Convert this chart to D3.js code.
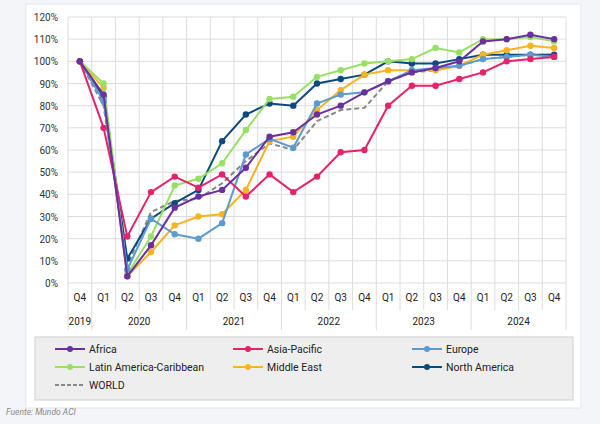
<!DOCTYPE html><html><head><meta charset="utf-8"><script src="https://cdn.jsdelivr.net/npm/d3@7"></script>
<style>body{margin:0;background:#f3f5f8;font-family:Roboto,"Liberation Sans",sans-serif;font-weight:400}text{font-weight:400}</style></head><body><svg id="c" width="600" height="424"></svg>
<script>
const quarters=["Q4","Q1","Q2","Q3","Q4","Q1","Q2","Q3","Q4","Q1","Q2","Q3","Q4","Q1","Q2","Q3","Q4","Q1","Q2","Q3","Q4"];
const years=[["2019",0,1],["2020",1,5],["2021",5,9],["2022",9,13],["2023",13,17],["2024",17,21]];
const yTicks=[0,10,20,30,40,50,60,70,80,90,100,110,120];
const africa=[100,85,3,17,34,39,42,52,66,68,76,80,86,91,95,97,100,109,110,112,110];
const asia=[100,70,21,41,48,43,49,39,49,41,48,59,60,80,89,89,92,95,100,101,102];
const europe=[100,82,6,29,22,20,27,58,65,61,81,85,86,91,96,97,98,101,102,103,102];
const latam=[100,90,4,21,44,47,54,69,83,84,93,96,99,100,101,106,104,110,110,111,109];
const mideast=[100,88,3,14,26,30,31,42,64,66,78,87,94,96,96,96,98,103,105,107,106];
const namer=[100,84,11,29,36,42,64,76,81,80,90,92,94,100,99,99,101,103,103,103,103];
const world=[100,80,8,32,37,38,45,55,63,60,73,78,79,91,95,96,98,101,102,103,103];
const series=[
 {n:"Africa",v:africa,c:"#6b2fa0"},{n:"Asia-Pacific",v:asia,c:"#e6226a"},{n:"Europe",v:europe,c:"#5b9bd0"},
 {n:"Latin America-Caribbean",v:latam,c:"#97e065"},{n:"Middle East",v:mideast,c:"#f8b320"},{n:"North America",v:namer,c:"#0c4a7d"},
 {n:"WORLD",v:world,c:"#888",dash:true}];
const svg=d3.select("#c");
svg.append("rect").attr("x",26).attr("y",4).attr("width",555).attr("height",404).attr("fill","#fff").attr("stroke","#e2e5ea");
const L=68,R=566,T=17,B=283;
const x=d3.scaleBand().domain(d3.range(21)).range([L,R]);
const y=d3.scaleLinear().domain([0,120]).range([B,T]);
const g=svg.append("g");
yTicks.forEach(t=>{g.append("line").attr("x1",L).attr("x2",R).attr("y1",y(t)).attr("y2",y(t)).attr("stroke","#dcdcdc");
 g.append("text").attr("x",L-10).attr("y",y(t)+4).attr("text-anchor","end").attr("font-size",10).attr("fill","#333").text(t+"%");});
d3.range(22).forEach(i=>{const xx=i<21?x(i):R;const yr=years.some(a=>a[1]===i)||i===21;
 g.append("line").attr("x1",xx).attr("x2",xx).attr("y1",T).attr("y2",yr?330:310).attr("stroke","#dcdcdc");});
quarters.forEach((q,i)=>g.append("text").attr("x",x(i)+x.bandwidth()/2).attr("y",301).attr("text-anchor","middle").attr("font-size",10).attr("fill","#222").text(q));
years.forEach(([t,a,b])=>g.append("text").attr("x",(x(a)+(b<21?x(b):R))/2).attr("y",325).attr("text-anchor","middle").attr("font-size",10).attr("fill","#222").text(t));
const line=d3.line().x((d,i)=>x(i)+x.bandwidth()/2).y(d=>y(d));
series.slice().reverse().forEach(s=>{
 g.append("path").attr("d",line(s.v)).attr("fill","none").attr("stroke",s.c).attr("stroke-width",2).attr("stroke-dasharray",s.dash?"5,3":null);
 if(!s.dash)g.selectAll(null).data(s.v).enter().append("circle").attr("cx",(d,i)=>x(i)+x.bandwidth()/2).attr("cy",d=>y(d)).attr("r",3.2).attr("fill",s.c);});
svg.append("rect").attr("x",35).attr("y",337).attr("width",538).attr("height",63).attr("fill","#eeeeee").attr("stroke","#cfcfcf");
const lx=[55,233,412],ly=[349,367,385];
series.forEach((s,i)=>{const cx=lx[i%3],cy=ly[Math.floor(i/3)];
 svg.append("line").attr("x1",cx).attr("x2",cx+30).attr("y1",cy).attr("y2",cy).attr("stroke",s.c).attr("stroke-width",2).attr("stroke-dasharray",s.dash?"4,2":null);
 if(!s.dash)svg.append("circle").attr("cx",cx+15).attr("cy",cy).attr("r",3).attr("fill",s.c);
 svg.append("text").attr("x",cx+34).attr("y",cy+4).attr("font-size",10.5).attr("fill","#222").text(s.n);});
svg.append("text").attr("x",6).attr("y",415).attr("font-size",8.5).attr("font-style","italic").attr("fill","#888").text("Fuente: Mundo ACI");
</script></body></html>
